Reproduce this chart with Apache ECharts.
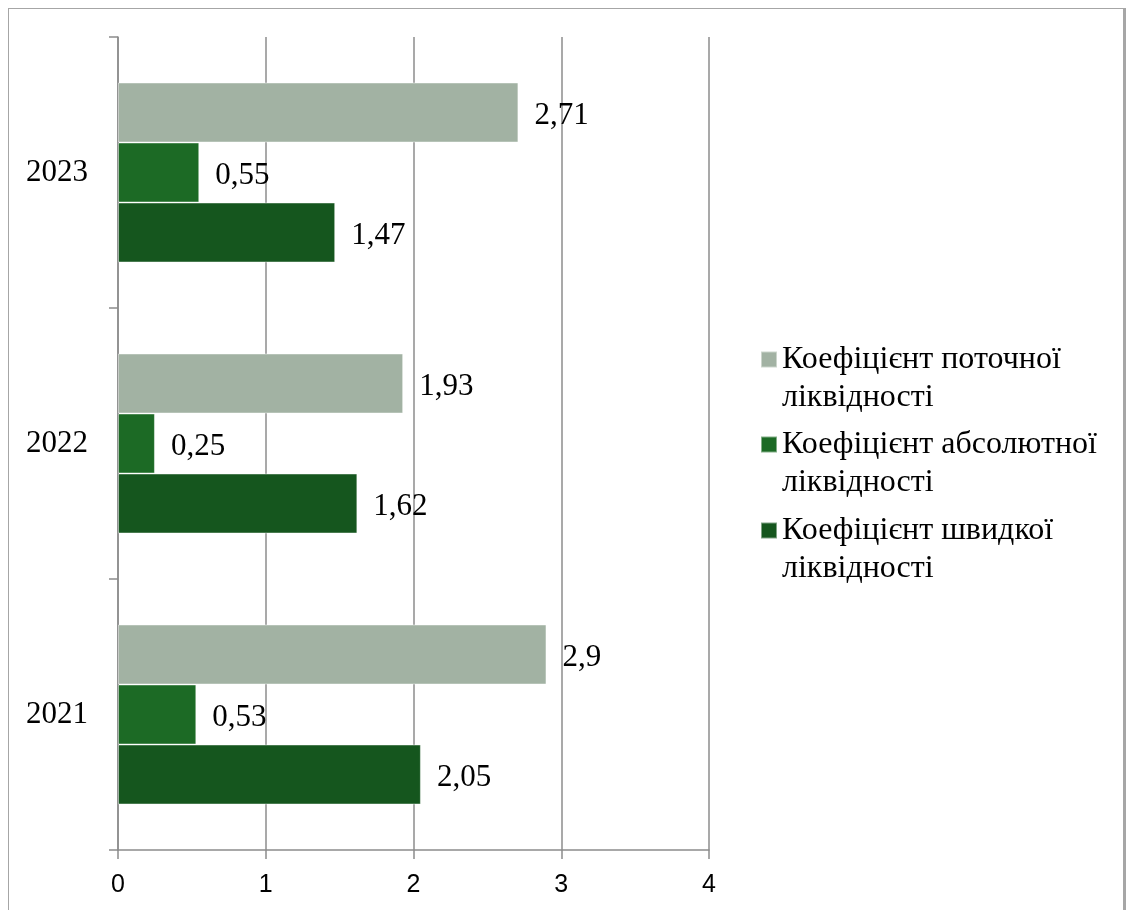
<!DOCTYPE html>
<html>
<head>
<meta charset="utf-8">
<script src="https://cdn.jsdelivr.net/npm/echarts@6/dist/echarts.min.js"></script>
<style>
html,body{margin:0;padding:0;background:#fff;}
#c{width:1127px;height:910px;position:absolute;left:0;top:0;}
#frame{position:absolute;left:8px;top:8px;width:1114px;height:920px;border:1.5px solid #a6a6a6;border-right-width:3px;pointer-events:none;}
</style>
</head>
<body>
<div id="c"></div>
<div id="frame"></div>
<script>
const categories = ['2021', '2022', '2023'];
const seriesNames = ['Коефіцієнт поточної ліквідності', 'Коефіцієнт абсолютної ліквідності', 'Коефіцієнт швидкої ліквідності'];
const legendLines = [['Коефіцієнт поточної', 'ліквідності'], ['Коефіцієнт абсолютної', 'ліквідності'], ['Коефіцієнт швидкої', 'ліквідності']];
const currentRatio = [2.9, 1.93, 2.71];
const absoluteRatio = [0.53, 0.25, 0.55];
const quickRatio = [2.05, 1.62, 1.47];
const xTicks = [0, 1, 2, 3, 4];
const colors = ['#a2b2a3', '#1c6a25', '#15561e'];

const seriesValues = [currentRatio, absoluteRatio, quickRatio];
const serif = '"Liberation Serif", "Times New Roman", serif';
const axisColor = '#8c8c8c';

const chart = echarts.init(document.getElementById('c'));
const legendTops = [302.5, 387.5, 473.5];
chart.setOption({
  animation: false,
  color: colors,
  grid: { left: 118, right: 418, top: 37, bottom: 60, containLabel: false },
  legend: seriesNames.map((n, i) => ({
    data: [n],
    orient: 'vertical',
    left: 760,
    top: legendTops[i],
    padding: 0,
    itemWidth: 16,
    itemHeight: 16,
    icon: 'rect',
    selectedMode: false,
    formatter: name => '\n' + legendLines[seriesNames.indexOf(name)].join('\n'),
    textStyle: { fontFamily: serif, fontSize: 32, lineHeight: 38, color: '#000' }
  })),
  xAxis: {
    type: 'value', min: xTicks[0], max: xTicks[xTicks.length - 1], interval: 1,
    axisLine: { show: true, lineStyle: { color: axisColor, width: 1.5 } },
    axisTick: { show: true, length: 9, lineStyle: { color: axisColor, width: 1.5 } },
    splitLine: { show: true, lineStyle: { color: axisColor, width: 1.5 } },
    axisLabel: { fontFamily: '"Liberation Sans", Arial, sans-serif', fontSize: 25, color: '#000', margin: 23 }
  },
  yAxis: {
    type: 'category', data: categories,
    axisLine: { show: true, lineStyle: { color: axisColor, width: 1.5 } },
    axisTick: { show: true, length: 9, lineStyle: { color: axisColor, width: 1.5 } },
    axisLabel: { fontFamily: serif, fontSize: 31, color: '#000', margin: 30, padding: [8, 0, 0, 0] }
  },
  series: seriesNames.map((n, i) => ({
    name: n,
    type: 'bar',
    data: seriesValues[i],
    barWidth: 60,
    barGap: '0%',
    itemStyle: { color: colors[i], borderColor: 'rgba(255,255,255,0.45)', borderWidth: 1 },
    label: {
      show: true, position: 'right', distance: 16, offset: [0, 3],
      fontFamily: serif, fontSize: 31, color: '#000',
      formatter: p => String(p.value).replace('.', ',')
    }
  }))
});
</script>
</body>
</html>
